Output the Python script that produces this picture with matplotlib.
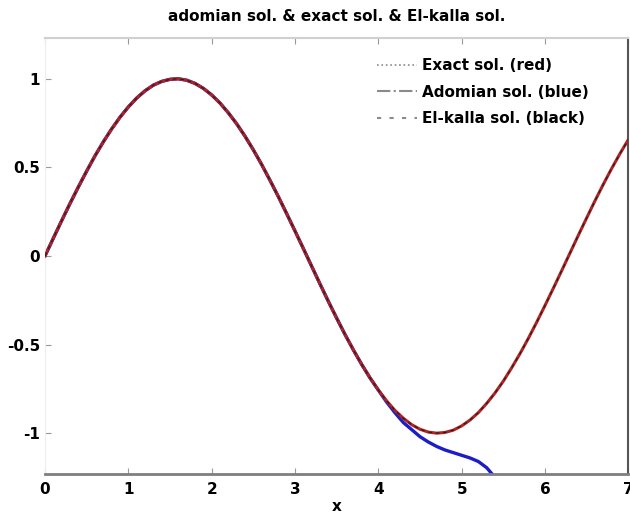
import matplotlib
matplotlib.use('Agg')
import matplotlib.pyplot as plt

# ── Data ──────────────────────────────────────────────────────────────────
x_vals = [0.0, 0.1, 0.2, 0.3, 0.4, 0.5, 0.6, 0.7, 0.8, 0.9,
          1.0, 1.1, 1.2, 1.3, 1.4, 1.5, 1.6, 1.7, 1.8, 1.9,
          2.0, 2.1, 2.2, 2.3, 2.4, 2.5, 2.6, 2.7, 2.8, 2.9,
          3.0, 3.1, 3.2, 3.3, 3.4, 3.5, 3.6, 3.7, 3.8, 3.9,
          4.0, 4.1, 4.2, 4.3, 4.4, 4.5, 4.6, 4.7, 4.8, 4.9,
          5.0, 5.1, 5.2, 5.3, 5.4, 5.5, 5.6, 5.7, 5.8, 5.9,
          6.0, 6.1, 6.2, 6.3, 6.4, 6.5, 6.6, 6.7, 6.8, 6.9, 7.0]

exact_vals = [0.000, 0.100, 0.199, 0.296, 0.389, 0.479, 0.565, 0.644, 0.717, 0.783,
              0.841, 0.891, 0.932, 0.964, 0.985, 0.997, 1.000, 0.992, 0.974, 0.946,
              0.909, 0.863, 0.808, 0.746, 0.676, 0.599, 0.516, 0.427, 0.335, 0.239,
              0.141, 0.042, -0.058, -0.158, -0.256, -0.351, -0.443, -0.530, -0.612, -0.688,
              -0.757, -0.818, -0.872, -0.916, -0.952, -0.978, -0.994, -1.000, -0.996, -0.983,
              -0.959, -0.926, -0.884, -0.832, -0.773, -0.706, -0.631, -0.551, -0.465, -0.374,
              -0.279, -0.182, -0.083, 0.017, 0.117, 0.215, 0.312, 0.405, 0.494, 0.578, 0.657]

elkalla_vals = exact_vals

adomian_x = x_vals[:55]
adomian_vals = exact_vals[:41] + [-0.825, -0.885, -0.940, -0.980, -1.020, -1.050, -1.075,
                                  -1.095, -1.110, -1.125, -1.140, -1.160, -1.195, -1.250]

x_ticks = [0, 1, 2, 3, 4, 5, 6, 7]
y_ticks = [-1, -0.5, 0, 0.5, 1]
y_ticklabels = ['-1', '-0.5', '0', '0.5', '1']

# ── Figure ────────────────────────────────────────────────────────────────
fig = plt.figure(figsize=(6.3, 5.14), dpi=100, facecolor='white')
ax = fig.add_axes([0.0714, 0.078, 0.926, 0.848])

ax.plot(adomian_x, adomian_vals, color='#1c1cc8', lw=2.4, zorder=2)
ax.plot(x_vals, exact_vals, color='#b22222', lw=2.2, zorder=3)
ax.plot(x_vals, elkalla_vals, color='#222222', lw=0.9, ls=(0, (3, 3)), zorder=4)

# legend handles are grey in the reference
GREY = '#8a8a8a'
h1, = ax.plot([], [], color=GREY, lw=1.2, ls=':')
h2, = ax.plot([], [], color=GREY, lw=1.5, ls='-.')
h3, = ax.plot([], [], color=GREY, lw=1.5, ls=(0, (2, 4)))
leg = ax.legend([h1, h2, h3],
                ['Exact sol. (red)', 'Adomian sol. (blue)', 'El-kalla sol. (black)'],
                loc='upper right', bbox_to_anchor=(0.955, 0.985), frameon=False,
                prop={'weight': 'bold', 'size': 11}, handlelength=2.6,
                handletextpad=0.3, labelspacing=0.75)

ax.set_xlim(0, 7)
ax.set_ylim(-1.23, 1.23)
ax.set_xticks(x_ticks)
ax.set_yticks(y_ticks)
ax.set_yticklabels(y_ticklabels)
ax.tick_params(axis='both', direction='in', colors='#999999', length=4,
               labelcolor='black', labelsize=11)
ax.tick_params(axis='x', top=True, pad=6)
for lab in ax.get_xticklabels() + ax.get_yticklabels():
    lab.set_fontweight('bold')

ax.spines['bottom'].set_color('#7f7f7f')
ax.spines['bottom'].set_linewidth(2.0)
ax.spines['top'].set_color('#d0d0d0')
ax.spines['top'].set_linewidth(1.5)
ax.spines['left'].set_color('#eeeeee')
ax.spines['right'].set_color('#555555')
ax.spines['right'].set_linewidth(1.5)

ax.set_xlabel('x', fontweight='bold', fontsize=11, labelpad=1)
ax.set_title('adomian sol. & exact sol. & El-kalla sol.',
             fontweight='bold', fontsize=11, pad=12)

plt.savefig('out.png', dpi=100, facecolor='white')
